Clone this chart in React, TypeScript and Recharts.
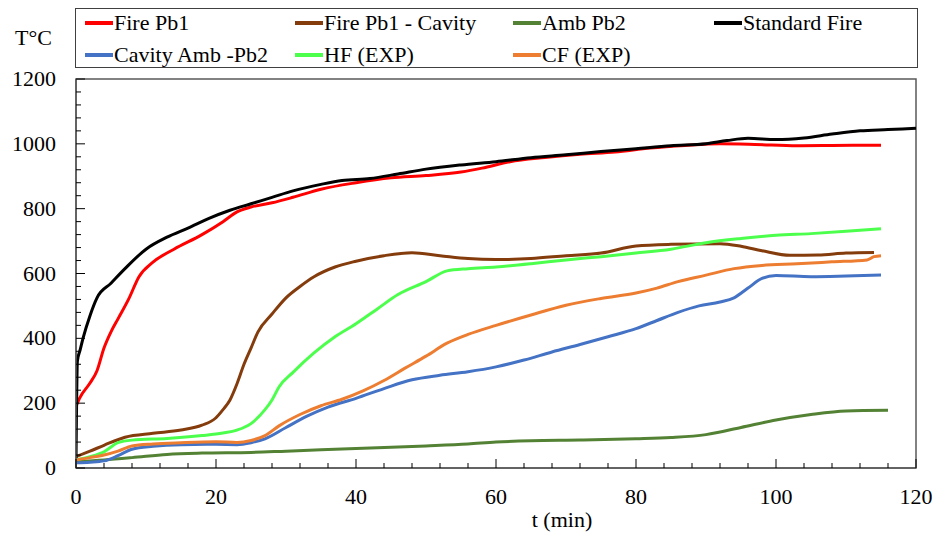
import { LineChart, Line, XAxis, YAxis, ReferenceArea } from 'recharts';

// time (min) / temperature (°C)
const stdT = [0, 0.2, 0.6, 1, 2, 3, 5, 7, 10, 13, 16, 19, 22, 25, 28, 31, 35, 38, 42, 46, 50, 55, 60, 65, 70, 75, 80, 85, 90, 93, 96, 100, 104, 108, 112, 116, 120];
const stdV = [20, 330, 365, 400, 470, 525, 570, 615, 675, 712, 740, 770, 795, 815, 835, 855, 875, 887, 893, 907, 922, 935, 945, 957, 966, 976, 985, 994, 1000, 1010, 1017, 1013, 1018, 1030, 1040, 1044, 1048];

const fireT = [0, 0.5, 2, 3, 4, 5, 6, 7.5, 9, 11, 14, 18, 21, 23, 25, 28, 31, 35, 40, 45, 50, 55, 58, 62, 67, 72, 77, 82, 87, 92, 97, 103, 108, 115];
const fireV = [190, 215, 262, 300, 370, 420, 460, 520, 590, 635, 675, 720, 760, 790, 805, 818, 835, 860, 880, 895, 902, 913, 925, 945, 958, 968, 975, 987, 995, 1000, 998, 994, 995, 996];

const cavT = [0, 2, 4, 7, 11, 15, 18, 20, 21, 22, 23, 24, 25, 26, 28, 30, 32, 34, 37, 40, 44, 48, 52, 56, 60, 65, 70, 75, 80, 85, 92, 95, 98, 102, 106, 110, 114];
const cavV = [35, 52, 70, 95, 107, 117, 132, 155, 180, 210, 260, 320, 370, 420, 475, 525, 560, 590, 620, 638, 655, 664, 655, 646, 643, 646, 655, 663, 685, 690, 692, 684, 670, 656, 657, 663, 665];

const ambT = [0, 4, 8, 13, 18, 25, 30, 40, 50, 56, 60, 65, 72, 80, 85, 90, 95, 100, 105, 110, 116];
const ambV = [20, 25, 32, 42, 46, 48, 52, 60, 68, 74, 80, 84, 86, 90, 94, 103, 125, 148, 165, 176, 178];

const cavAmbT = [0, 2, 4, 6, 8, 11, 15, 20, 23, 25, 27, 30, 33, 36, 40, 44, 48, 52, 56, 60, 64, 68, 72, 76, 80, 83, 86, 89, 92, 94, 96, 98, 100, 105, 110, 115];
const cavAmbV = [16, 18, 22, 38, 58, 67, 72, 73, 72, 78, 90, 125, 160, 188, 215, 245, 272, 286, 297, 312, 333, 358, 381, 405, 430, 455, 480, 500, 512, 525, 555, 585, 594, 590, 592, 595];

const hfT = [0, 2, 4, 6, 8, 13, 18, 21, 23, 25, 27, 28, 29, 31, 34, 37, 40, 43, 46, 50, 53, 56, 60, 65, 70, 75, 80, 85, 90, 95, 100, 105, 110, 115];
const hfV = [25, 35, 50, 78, 86, 91, 100, 108, 117, 137, 180, 210, 250, 295, 355, 405, 445, 490, 535, 575, 608, 615, 620, 630, 642, 652, 663, 675, 695, 708, 718, 723, 730, 738];

const cfT = [0, 2, 4, 6, 8, 11, 15, 20, 23, 25, 27, 29, 32, 35, 38, 41, 44, 47, 50, 53, 56, 60, 65, 70, 75, 80, 83, 86, 90, 94, 98, 103, 108, 113, 114, 115];
const cfV = [25, 32, 40, 52, 68, 74, 78, 81, 79, 85, 100, 130, 165, 192, 212, 238, 270, 308, 345, 385, 412, 440, 472, 502, 523, 540, 555, 575, 595, 615, 625, 630, 636, 642, 652, 655];

const xTicks = [0, 4, 8, 12, 16, 20, 24, 28, 32, 36, 40, 44, 48, 52, 56, 60, 64, 68, 72, 76, 80, 84, 88, 92, 96, 100, 104, 108, 112, 116, 120];
const yTicks = [0, 40, 80, 120, 160, 200, 240, 280, 320, 360, 400, 440, 480, 520, 560, 600, 640, 680, 720, 760, 800, 840, 880, 920, 960, 1000, 1040, 1080, 1120, 1160, 1200];

const toRows = (ts: number[], vs: number[]) => ts.map((t, i) => ({ t, v: vs[i] }));

const series = [
  { name: 'Fire Pb1', color: '#ff0000', data: toRows(fireT, fireV) },
  { name: 'Fire Pb1 - Cavity', color: '#843c0c', data: toRows(cavT, cavV) },
  { name: 'Amb Pb2', color: '#548235', data: toRows(ambT, ambV) },
  { name: 'Standard Fire', color: '#000000', data: toRows(stdT, stdV) },
  { name: 'Cavity Amb -Pb2', color: '#4472c4', data: toRows(cavAmbT, cavAmbV) },
  { name: 'HF (EXP)', color: '#4dff4d', data: toRows(hfT, hfV) },
  { name: 'CF (EXP)', color: '#ed7d31', data: toRows(cfT, cfV) },
];

const font = 'Liberation Serif';

const XTick = ({ x, y, payload }: any) => {
  const major = payload.value % 20 === 0;
  return (
    <g>
      <line x1={x} x2={x} y1={y} y2={y - (major ? 9 : 5)} stroke="#000" strokeWidth={1} />
      {major && (
        <text x={x} y={y + 36} textAnchor="middle" fontSize={22} fontFamily={font} fill="#000">
          {payload.value}
        </text>
      )}
    </g>
  );
};

const YTick = ({ x, y, payload }: any) => {
  const major = payload.value % 200 === 0;
  return (
    <g>
      <line x1={x} x2={x + (major ? 9 : 5)} y1={y} y2={y} stroke="#000" strokeWidth={1} />
      {major && (
        <text x={x - 20} y={y + 7} textAnchor="end" fontSize={22} fontFamily={font} fill="#000">
          {payload.value}
        </text>
      )}
    </g>
  );
};

const legendPos = [
  { left: 85, top: 11 },
  { left: 295, top: 11 },
  { left: 513, top: 11 },
  { left: 714, top: 11 },
  { left: 85, top: 43 },
  { left: 295, top: 43 },
  { left: 513, top: 43 },
];

export default function App() {
  return (
    <div style={{ position: 'absolute', left: 0, top: 0, width: 938, height: 541, background: '#fff', fontFamily: font }}>
      <div style={{ position: 'absolute', left: 15, top: 25, fontSize: 22 }}>T°C</div>
      <div
        style={{
          position: 'absolute',
          left: 75,
          top: 8,
          width: 841,
          height: 58,
          border: '1.5px solid #404040',
        }}
      />
      {series.map((s, i) => (
        <div
          key={s.name}
          style={{
            position: 'absolute',
            left: legendPos[i].left,
            top: legendPos[i].top,
            display: 'flex',
            alignItems: 'center',
            fontSize: 22,
            lineHeight: '24px',
            whiteSpace: 'nowrap',
          }}
        >
          <span style={{ display: 'inline-block', width: 28, height: 3.5, background: s.color, marginRight: 1 }} />
          {s.name}
        </div>
      ))}
      <LineChart
        width={938}
        height={541}
        margin={{ top: 79, right: 22, bottom: 43, left: 16 }}
        style={{ position: 'absolute', left: 0, top: 0 }}
      >
        <XAxis
          type="number"
          dataKey="t"
          domain={[0, 120]}
          ticks={xTicks}
          interval={0}
          tickSize={0}
          tickMargin={0}
          height={30}
          axisLine={{ stroke: '#595959', strokeWidth: 1.5 }}
          tick={<XTick />}
          allowDataOverflow
        />
        <YAxis
          type="number"
          domain={[0, 1200]}
          ticks={yTicks}
          interval={0}
          tickSize={0}
          tickMargin={0}
          width={60}
          axisLine={{ stroke: '#595959', strokeWidth: 1.5 }}
          tick={<YTick />}
          allowDataOverflow
        />
        <ReferenceArea x1={0} x2={120} y1={0} y2={1200} fill="none" stroke="#595959" strokeWidth={1.5} ifOverflow="visible" />
        {series.map((s) => (
          <Line
            key={s.name}
            data={s.data}
            dataKey="v"
            type="monotone"
            stroke={s.color}
            strokeWidth={3}
            dot={false}
            isAnimationActive={false}
          />
        ))}
      </LineChart>
      <div style={{ position: 'absolute', left: 0, width: 1124, top: 507, textAlign: 'center', fontSize: 22 }}>t (min)</div>
    </div>
  );
}
